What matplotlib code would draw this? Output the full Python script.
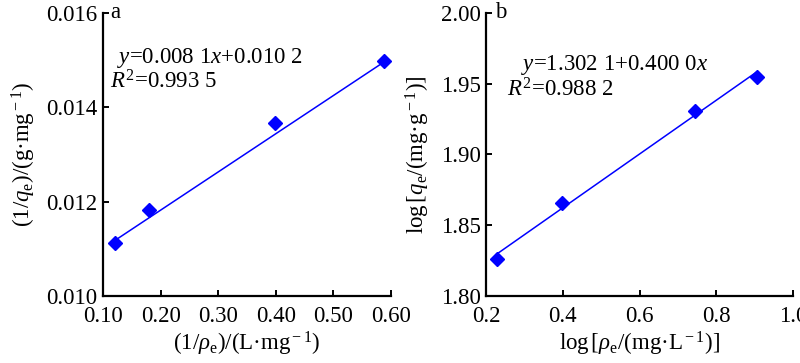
import numpy as np
import matplotlib
matplotlib.use("Agg")
import matplotlib.pyplot as plt

plt.rcParams["font.family"] = ["Liberation Serif", "DejaVu Serif"]
plt.rcParams["mathtext.fontset"] = "custom"
plt.rcParams["mathtext.rm"] = "Liberation Serif"
plt.rcParams["mathtext.it"] = "Liberation Serif:italic"

# panel a: Langmuir
inv_rho = [0.121, 0.179, 0.399, 0.587]
inv_q = [0.01113, 0.01183, 0.01366, 0.01499]
slope_a, icpt_a = 0.0081, 0.0102

# panel b: Freundlich
log_rho = [0.228, 0.397, 0.744, 0.906]
log_q = [1.826, 1.8655, 1.931, 1.955]

BLUE = "#0000ff"
FS = 16.5

fig = plt.figure(figsize=(8, 3.63), dpi=100)
ax1 = fig.add_axes([0.12875, 0.1846, 0.36, 0.7796])
ax2 = fig.add_axes([0.6075, 0.1846, 0.38375, 0.7796])


def _style(ax):
    for s in ("top", "right"):
        ax.spines[s].set_visible(False)
    for s in ("left", "bottom"):
        ax.spines[s].set_linewidth(1.6)
    ax.tick_params(direction="in", length=4, width=1.4, labelsize=FS, pad=4)
    ax.tick_params(axis="x", pad=7)


# a
xa = np.array(inv_rho)
ax1.plot(xa, slope_a * xa + icpt_a, color=BLUE, lw=1.1)
ax1.plot(inv_rho, inv_q, "D", color=BLUE, ms=7)
ax1.set_xlim(0.10, 0.60)
ax1.set_ylim(0.010, 0.016)
ax1.set_xticks([0.10, 0.20, 0.30, 0.40, 0.50, 0.60])
ax1.set_xticklabels(["0.10", "0.20", "0.30", "0.40", "0.50", "0.60"])
ax1.set_yticks([0.010, 0.012, 0.014, 0.016])
ax1.set_yticklabels(["0.010", "0.012", "0.014", "0.016"])
_style(ax1)
ax1.set_xlabel(r"(1/$\mathit{\rho}_{\rm e}$)/(L·mg$^{\rm -1}$)", fontsize=FS, labelpad=2)
ax1.set_ylabel(r"(1/$\mathit{q}_{\rm e}$)/(g·mg$^{\rm -1}$)", fontsize=FS, labelpad=6)
ax1.text(0.025, 1.0, "a", transform=ax1.transAxes, fontsize=FS, va="center", ha="left")
ax1.text(0.05, 0.84, r"$\mathit{y}$=0.008 1$\mathit{x}$+0.010 2", transform=ax1.transAxes,
         fontsize=FS, va="center", ha="left")
ax1.text(0.025, 0.755, r"$\mathit{R}^{\rm 2}$=0.993 5", transform=ax1.transAxes,
         fontsize=FS, va="center", ha="left")

# b
slope_b, icpt_b = np.polyfit(log_rho, log_q, 1)
xb = np.array(log_rho)
ax2.plot(xb, slope_b * xb + icpt_b, color=BLUE, lw=1.1)
ax2.plot(log_rho, log_q, "D", color=BLUE, ms=7)
ax2.set_xlim(0.2, 1.0)
ax2.set_ylim(1.80, 2.00)
ax2.set_xticks([0.2, 0.4, 0.6, 0.8, 1.0])
ax2.set_xticklabels(["0.2", "0.4", "0.6", "0.8", "1.0"])
ax2.set_yticks([1.80, 1.85, 1.90, 1.95, 2.00])
ax2.set_yticklabels(["1.80", "1.85", "1.90", "1.95", "2.00"])
_style(ax2)
ax2.set_xlabel(r"log$\,$[$\mathit{\rho}_{\rm e}$/(mg·L$^{\rm -1}$)]", fontsize=FS, labelpad=2)
ax2.set_ylabel(r"log$\,$[$\mathit{q}_{\rm e}$/(mg·g$^{\rm -1}$)]", fontsize=FS, labelpad=6)
ax2.text(0.03, 1.0, "b", transform=ax2.transAxes, fontsize=FS, va="center", ha="left")
ax2.text(0.115, 0.815, r"$\mathit{y}$=1.302 1+0.400 0$\mathit{x}$", transform=ax2.transAxes,
         fontsize=FS, va="center", ha="left")
ax2.text(0.07, 0.728, r"$\mathit{R}^{\rm 2}$=0.988 2", transform=ax2.transAxes,
         fontsize=FS, va="center", ha="left")

fig.savefig("out.png", dpi=100)
